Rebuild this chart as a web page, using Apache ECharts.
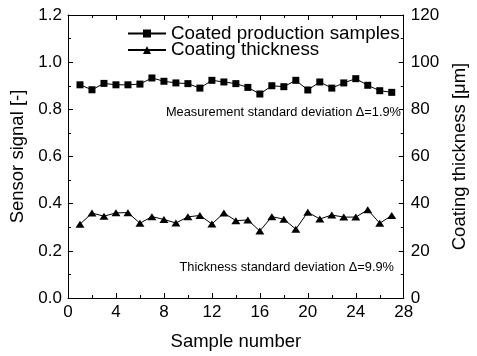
<!DOCTYPE html>
<html>
<head>
<meta charset="utf-8">
<script src="https://cdn.jsdelivr.net/npm/echarts@6/dist/echarts.min.js"></script>
<style>
  html, body { margin: 0; padding: 0; background: #fff; }
  #chart { width: 477px; height: 356px; }
</style>
</head>
<body>
<div id="chart"></div>
<script>
// Sample index along the x axis
const samples = [1, 2, 3, 4, 5, 6, 7, 8, 9, 10, 11, 12, 13, 14, 15, 16, 17, 18, 19, 20, 21, 22, 23, 24, 25, 26, 27];
// Sensor signal of the coated production samples (left axis, [-])
const sensorSignal = [0.904, 0.883, 0.910, 0.904, 0.904, 0.907, 0.933, 0.919, 0.912, 0.909, 0.890, 0.923, 0.916, 0.909,
  0.893, 0.865, 0.900, 0.896, 0.923, 0.882, 0.916, 0.890, 0.912, 0.930, 0.902, 0.879, 0.872];
// Coating thickness (right axis, µm)
const coatingThickness = [31.3, 36.0, 34.7, 36.1, 36.2, 31.7, 34.5, 33.3, 31.8, 34.4, 35.0, 31.4, 36.0, 32.8,
  33.1, 28.4, 34.5, 33.4, 29.2, 36.4, 33.5, 35.2, 34.3, 34.3, 37.4, 31.7, 35.0];
const seriesNames = ['Coated production samples', 'Coating thickness'];
const notes = ['Measurement standard deviation \u0394=1.9%', 'Thickness standard deviation \u0394=9.9%'];

const FONT = '"Liberation Sans", Arial, sans-serif';
const tickCommon = { inside: true, length: 5, lineStyle: { color: '#000', width: 1 } };
const minorCommon = { show: true, splitNumber: 2, length: 3, lineStyle: { color: '#000', width: 1 } };
const lineCommon = { show: true, onZero: false, lineStyle: { color: '#000', width: 1 } };

const chart = echarts.init(document.getElementById('chart'), null, { renderer: 'canvas' });
chart.setOption({
  animation: false,
  backgroundColor: '#fff',
  textStyle: { fontFamily: FONT },
  grid: { left: 68, right: 63, top: 15, bottom: 58 },
  legend: {
    orient: 'vertical',
    left: 127,
    top: 24,
    padding: 0,
    itemWidth: 38,
    itemHeight: 10,
    itemGap: -2.5,
    textStyle: { fontFamily: FONT, fontSize: 18.8, color: '#000' },
    data: seriesNames
  },
  xAxis: [{
    type: 'value', min: 0, max: 28, interval: 4, position: 'bottom',
    name: 'Sample number', nameLocation: 'middle', nameGap: 34,
    nameTextStyle: { fontFamily: FONT, fontSize: 18.5, color: '#000' },
    axisLine: lineCommon, axisTick: tickCommon, minorTick: minorCommon,
    axisLabel: { fontFamily: FONT, fontSize: 17, color: '#000', margin: 6 },
    splitLine: { show: false }
  }, {
    type: 'value', min: 0, max: 28, interval: 4, position: 'top',
    axisLine: lineCommon, axisTick: tickCommon, minorTick: minorCommon,
    axisLabel: { show: false }, splitLine: { show: false }
  }],
  yAxis: [{
    type: 'value', min: 0, max: 1.2, interval: 0.2, position: 'left',
    name: 'Sensor signal [-]', nameLocation: 'middle', nameGap: 41, nameRotate: 90,
    nameTextStyle: { fontFamily: FONT, fontSize: 18.5, color: '#000' },
    axisLine: lineCommon, axisTick: tickCommon, minorTick: minorCommon,
    axisLabel: { fontFamily: FONT, fontSize: 17, color: '#000', margin: 6,
      formatter: v => v.toFixed(1) },
    splitLine: { show: false }
  }, {
    type: 'value', min: 0, max: 120, interval: 20, position: 'right',
    name: 'Coating thickness [\u03bcm]', nameLocation: 'middle', nameGap: 44, nameRotate: 90,
    nameTextStyle: { fontFamily: FONT, fontSize: 18.5, color: '#000' },
    axisLine: lineCommon, axisTick: tickCommon, minorTick: minorCommon,
    axisLabel: { fontFamily: FONT, fontSize: 17, color: '#000', margin: 7 },
    splitLine: { show: false }
  }],
  series: [{
    name: seriesNames[0], type: 'line', xAxisIndex: 0, yAxisIndex: 0,
    data: samples.map((s, i) => [s, sensorSignal[i]]),
    symbol: 'rect', symbolSize: 7,
    lineStyle: { color: '#000', width: 1 },
    itemStyle: { color: '#000' }
  }, {
    name: seriesNames[1], type: 'line', xAxisIndex: 0, yAxisIndex: 1,
    data: samples.map((s, i) => [s, coatingThickness[i]]),
    symbol: 'triangle', symbolSize: [9, 7],
    lineStyle: { color: '#000', width: 1 },
    itemStyle: { color: '#000' }
  }],
  graphic: [{
    type: 'text', right: 477 - 401, top: 106,
    style: { text: notes[0], font: '12.8px ' + FONT, fill: '#000' }
  }, {
    type: 'text', right: 477 - 394, top: 261,
    style: { text: notes[1], font: '12.8px ' + FONT, fill: '#000' }
  }]
});
</script>
</body>
</html>
